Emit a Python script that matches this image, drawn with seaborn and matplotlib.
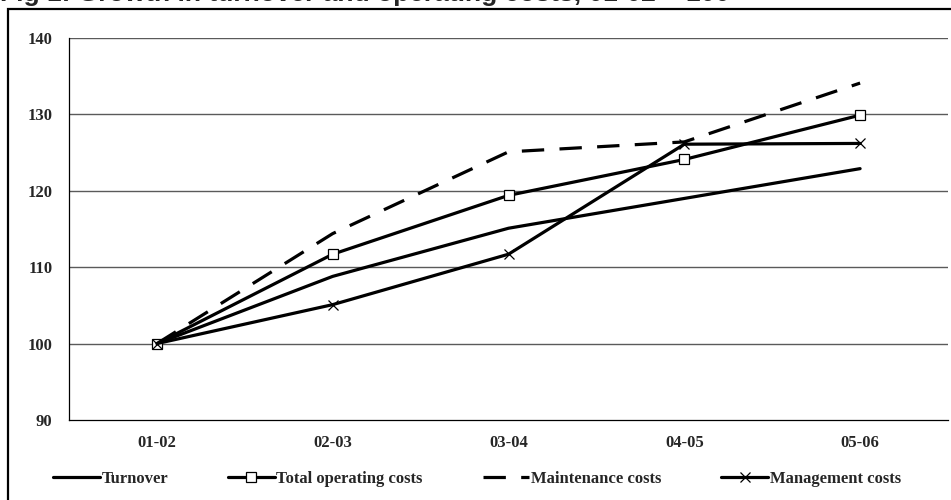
import matplotlib
matplotlib.use("Agg")
import matplotlib.pyplot as plt
import matplotlib.patches as mpatches
from matplotlib.lines import Line2D
import seaborn as sns
import pandas as pd

# ---- data ----
years = ["01-02", "02-03", "03-04", "04-05", "05-06"]
turnover = [100, 108.8, 115.1, 119.0, 122.9]
total_operating = [100, 111.7, 119.4, 124.1, 129.9]
maintenance = [100, 114.4, 125.1, 126.4, 134.1]
management = [100, 105.1, 111.7, 126.1, 126.2]
series_names = ["Turnover", "Total operating costs", "Maintenance costs", "Management costs"]
y_ticks = [90, 100, 110, 120, 130, 140]
title = "Fig 1: Growth in turnover and operating costs, 01-02 = 100"

sns.set_style("white")
plt.rcParams["font.family"] = ["Liberation Serif", "DejaVu Serif"]

fig = plt.figure(figsize=(9.51, 5.0), dpi=100)
ax = fig.add_axes([69 / 951, 1 - 420 / 500, (948 - 69) / 951, (420 - 38) / 500])

df = pd.DataFrame({
    "year": years * 4,
    "value": turnover + total_operating + maintenance + management,
    "series": sum([[s] * len(years) for s in series_names], []),
})

styles = {
    "Turnover": dict(marker=None, dashes=None),
    "Total operating costs": dict(marker="s", dashes=None),
    "Maintenance costs": dict(marker=None, dashes=(7, 4.8)),
    "Management costs": dict(marker="x", dashes=None),
}

handles = []
for name in series_names:
    sub = df[df["series"] == name]
    st = styles[name]
    kw = dict(color="black", linewidth=2.3, legend=False, ax=ax, sort=False)
    if st["marker"] == "s":
        kw.update(marker="s", markersize=7.5, markerfacecolor="white",
                  markeredgecolor="black", markeredgewidth=0.9)
    elif st["marker"] == "x":
        kw.update(marker="x", markersize=7.5, markeredgecolor="black",
                  markeredgewidth=0.9)
    sns.lineplot(data=sub, x="year", y="value", **kw)
    line = ax.lines[-1]
    if st["dashes"] is not None:
        line.set_dashes(st["dashes"])
        line.set_dash_capstyle("butt")
    h = Line2D([], [], color="black", linewidth=2.3,
               marker=line.get_marker(), markersize=7.5,
               markerfacecolor="white", markeredgecolor="black",
               markeredgewidth=line.get_markeredgewidth())
    if st["dashes"] is not None:
        h.set_dashes(st["dashes"])
        h.set_dash_capstyle("butt")
    handles.append(h)

ax.set_xlim(-0.5, len(years) - 0.5)
ax.set_ylim(90, 140)
ax.set_yticks(y_ticks)
ax.set_yticklabels([str(v) for v in y_ticks], fontsize=12, fontweight="bold")
ax.set_xticks(range(len(years)))
ax.set_xticklabels(years, fontsize=12, fontweight="bold")
ax.set_xticks([i - 0.5 for i in range(len(years) + 1)], minor=True)
ax.tick_params(axis="x", which="major", length=0, pad=11)
ax.tick_params(axis="x", which="minor", length=4, width=0.8, color="black", direction="out")
ax.tick_params(axis="y", which="major", length=5, width=0.8, color="black", direction="out", pad=7)
ax.set_xlabel("")
ax.set_ylabel("")
for v in y_ticks[1:]:
    ax.axhline(v, color="#5a5a5a", linewidth=1.0, zorder=0)
for s in ["top", "right"]:
    ax.spines[s].set_visible(False)
for s in ["left", "bottom"]:
    ax.spines[s].set_color("black")
    ax.spines[s].set_linewidth(0.9)

fig.legend(handles, series_names, loc="center left",
           bbox_to_anchor=(53 / 951, 1 - 479 / 500), ncol=4, frameon=False,
           borderaxespad=0, borderpad=0,
           handlelength=2.8, handletextpad=0.1, columnspacing=3.6,
           prop=dict(family="Liberation Serif", weight="bold", size=12))

# outer frame
fig.patches.append(mpatches.Rectangle((8 / 951, -0.02), 1.1, 1 - 9 / 500 + 0.02,
                                      transform=fig.transFigure, fill=False,
                                      edgecolor="black", linewidth=1.6))

fig.text(0.0, 1 - 1.5 / 500, title, ha="left", va="baseline",
         fontsize=19, fontweight="bold", family="Liberation Sans")

fig.savefig("out.png", dpi=100)
